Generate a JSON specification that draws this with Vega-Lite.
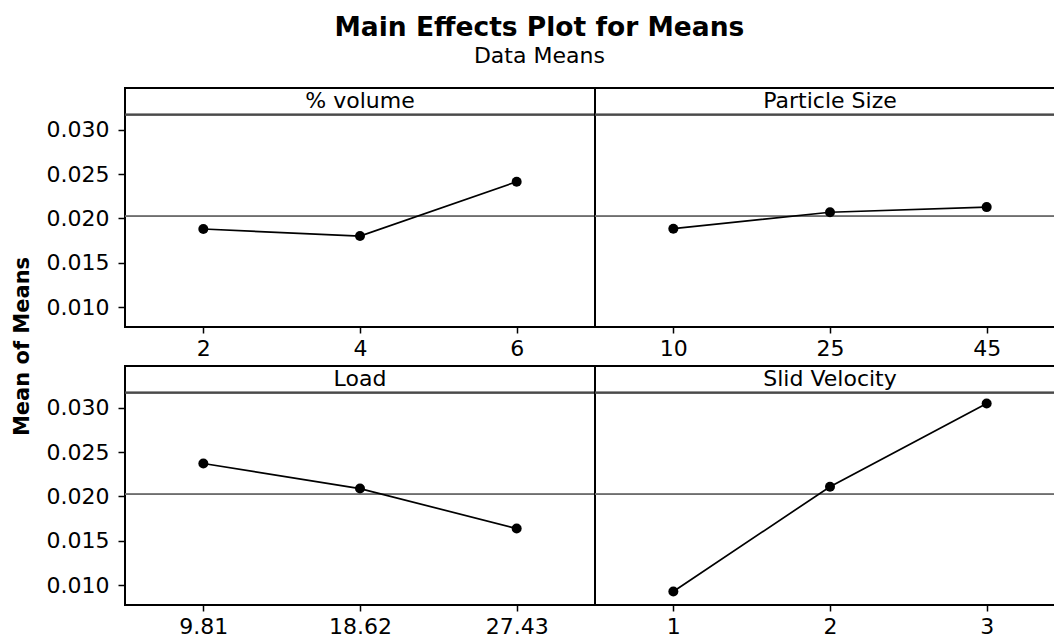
{
  "$schema": "https://vega.github.io/schema/vega-lite/v6.json",
  "padding": {"left": 11, "top": 14, "right": 0, "bottom": 0},
  "background": "white",
  "title": {
    "text": "Main Effects Plot for Means",
    "subtitle": "Data Means",
    "font": "DejaVu Sans",
    "fontSize": 26.5,
    "fontWeight": "bold",
    "color": "black",
    "subtitleFont": "DejaVu Sans",
    "subtitleFontSize": 22,
    "subtitleColor": "black",
    "subtitlePadding": 5,
    "anchor": "middle",
    "offset": 20
  },
  "spacing": 12,
  "hconcat": [
    {
      "data": {"values": [{"label": "Mean of Means"}]},
      "width": 22,
      "height": 517,
      "view": {"stroke": null},
      "mark": {"type": "text", "angle": 270, "font": "DejaVu Sans", "fontSize": 21, "fontWeight": "bold", "color": "black", "align": "center", "baseline": "middle"},
      "encoding": {
        "x": {"datum": 0.5, "type": "quantitative", "scale": {"domain": [0, 1]}, "axis": null},
        "y": {"datum": 0.5, "type": "quantitative", "scale": {"domain": [0, 1]}, "axis": null},
        "text": {"field": "label"}
      }
    },
    {
      "data": {
        "values": [
          {"factor": "% volume", "level": "2", "idx": 1, "mean": 0.01881, "r": 1, "c": 1},
          {"factor": "% volume", "level": "4", "idx": 2, "mean": 0.01802, "r": 1, "c": 1},
          {"factor": "% volume", "level": "6", "idx": 3, "mean": 0.02414, "r": 1, "c": 1},
          {"factor": "Particle Size", "level": "10", "idx": 1, "mean": 0.01885, "r": 1, "c": 2},
          {"factor": "Particle Size", "level": "25", "idx": 2, "mean": 0.02070, "r": 1, "c": 2},
          {"factor": "Particle Size", "level": "45", "idx": 3, "mean": 0.02128, "r": 1, "c": 2},
          {"factor": "Load", "level": "9.81", "idx": 1, "mean": 0.02371, "r": 2, "c": 1},
          {"factor": "Load", "level": "18.62", "idx": 2, "mean": 0.02089, "r": 2, "c": 1},
          {"factor": "Load", "level": "27.43", "idx": 3, "mean": 0.01638, "r": 2, "c": 1},
          {"factor": "Slid Velocity", "level": "1", "idx": 1, "mean": 0.00930, "r": 2, "c": 2},
          {"factor": "Slid Velocity", "level": "2", "idx": 2, "mean": 0.02110, "r": 2, "c": 2},
          {"factor": "Slid Velocity", "level": "3", "idx": 3, "mean": 0.03047, "r": 2, "c": 2}
        ]
      },
      "facet": {
        "row": {"field": "r", "type": "ordinal", "title": null, "header": {"labels": false, "title": null}},
        "column": {"field": "c", "type": "ordinal", "title": null, "header": {"labels": false, "title": null}}
      },
      "spacing": {"row": 39, "column": 0},
      "bounds": "flush",
      "resolve": {"scale": {"x": "independent"}},
      "spec": {
        "width": 470,
        "height": 239,
        "layer": [
          {
            "mark": {"type": "rule", "color": "#6e6e6e", "strokeWidth": 1.4},
            "encoding": {"y": {"datum": 0.02025, "type": "quantitative"}}
          },
          {
            "mark": {"type": "rule", "color": "#4a4a4a", "strokeWidth": 1.6},
            "encoding": {"y": {"datum": 0.0317, "type": "quantitative"}}
          },
          {
            "transform": [{"filter": "datum.idx == 2"}],
            "mark": {"type": "text", "font": "DejaVu Sans", "fontSize": 22, "color": "black", "baseline": "middle"},
            "encoding": {
              "x": {"field": "level", "type": "ordinal", "sort": {"field": "idx", "op": "min"}},
              "y": {"datum": 0.03318, "type": "quantitative"},
              "text": {"field": "factor"}
            }
          },
          {
            "mark": {"type": "line", "color": "black", "strokeWidth": 1.7},
            "encoding": {
              "x": {"field": "level", "type": "ordinal", "sort": {"field": "idx", "op": "min"}},
              "y": {"field": "mean", "type": "quantitative"}
            }
          },
          {
            "mark": {"type": "point", "filled": true, "color": "black", "size": 100, "opacity": 1},
            "encoding": {
              "x": {"field": "level", "type": "ordinal", "sort": {"field": "idx", "op": "min"},
                "scale": {"type": "point", "padding": 0.5},
                "axis": {"title": null, "domain": false, "tickSize": 6, "tickColor": "black", "tickWidth": 1.5, "labelPadding": 5, "labelAngle": 0, "labelAlign": "center", "labelBaseline": "top", "labelFont": "DejaVu Sans", "labelFontSize": 22, "labelColor": "black", "grid": false}
              },
              "y": {"field": "mean", "type": "quantitative",
                "scale": {"domain": [0.00777, 0.0347], "nice": false, "zero": false},
                "axis": {"title": null, "values": [0.01, 0.015, 0.02, 0.025, 0.03], "format": ".3f", "domain": false, "tickSize": 7, "tickColor": "black", "tickWidth": 1.5, "labelPadding": 9, "labelFont": "DejaVu Sans", "labelFontSize": 22, "labelColor": "black", "grid": false}
              }
            }
          }
        ]
      }
    }
  ],
  "config": {
    "font": "DejaVu Sans",
    "view": {"stroke": "black", "strokeWidth": 2}
  }
}
